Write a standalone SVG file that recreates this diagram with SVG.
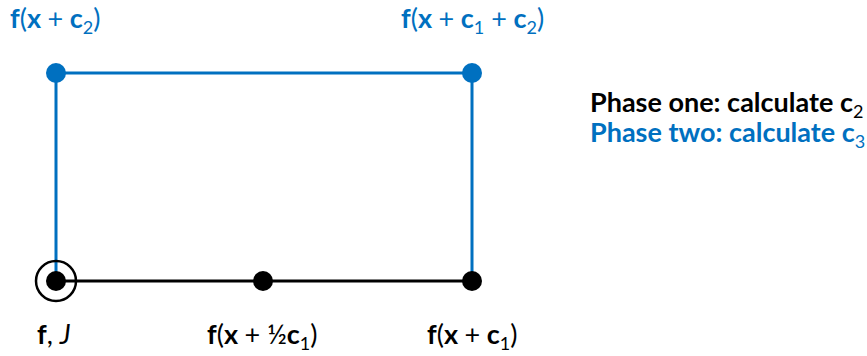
<svg xmlns="http://www.w3.org/2000/svg" width="867" height="356" viewBox="0 0 867 356">
<style>
text{font-family:Lato,"Open Sans","Liberation Sans",sans-serif;font-weight:bold;font-size:27px}
.b{fill:#0070C0}
.k{fill:#000}
.sub{font-size:18px;font-weight:normal}
.it{font-style:italic;font-weight:normal}
.n{font-weight:normal}
</style>
<rect width="867" height="356" fill="#fff"/>
<g id="connectors" fill="none" stroke-width="3">
<path d="M56 281H472" stroke="#000"/>
<path d="M56 281V73H472V281" stroke="#0070C0"/>
</g>
<g id="n-top-left"><circle cx="56" cy="73" r="10" fill="#0070C0"/><text class="b" x="10" y="28">f<tspan class="n">(</tspan>x <tspan class="n">+</tspan> c<tspan class="sub" dy="6">2</tspan><tspan class="n" dy="-6">)</tspan></text></g>
<g id="n-top-right"><circle cx="472" cy="73" r="10" fill="#0070C0"/><text class="b" x="401" y="28">f<tspan class="n">(</tspan>x <tspan class="n">+</tspan> c<tspan class="sub" dy="6">1</tspan><tspan class="n" dy="-6"> +</tspan> c<tspan class="sub" dy="6">2</tspan><tspan class="n" dy="-6">)</tspan></text></g>
<g id="n-origin"><circle cx="56" cy="281" r="20" fill="none" stroke="#000" stroke-width="2.5"/><circle cx="56" cy="281" r="10" fill="#000"/><text class="k" x="37" y="344">f<tspan class="n">, </tspan><tspan class="it">J</tspan></text></g>
<g id="n-mid"><circle cx="263" cy="281" r="10" fill="#000"/><text class="k" x="207" y="344">f<tspan class="n">(</tspan>x <tspan class="n">+ ½</tspan>c<tspan class="sub" dy="6">1</tspan><tspan class="n" dy="-6">)</tspan></text></g>
<g id="n-right"><circle cx="472" cy="281" r="10" fill="#000"/><text class="k" x="427" y="344">f<tspan class="n">(</tspan>x <tspan class="n">+</tspan> c<tspan class="sub" dy="6">1</tspan><tspan class="n" dy="-6">)</tspan></text></g>
<g id="legend">
<text class="k" x="590" y="112">Phase one: calculate c<tspan class="sub" dy="6">2</tspan></text>
<text class="b" x="590" y="142">Phase two: calculate c<tspan class="sub" dy="6">3</tspan></text>
</g>
</svg>
